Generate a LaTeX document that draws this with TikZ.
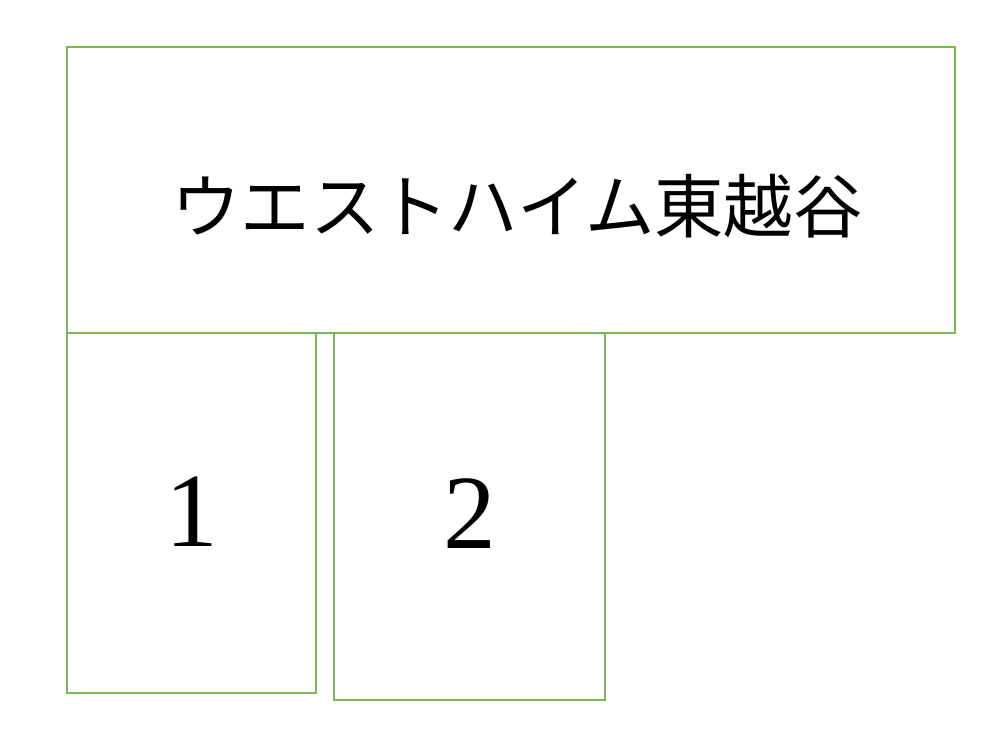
\documentclass[tikz,border=0pt]{standalone}
\usepackage{fontspec}
\setmainfont{Liberation Serif}
\newfontfamily\cjk{Noto Sans CJK JP}
\definecolor{lotgreen}{RGB}{122,184,84}
\tikzset{lot/.style={draw=lotgreen,line width=0.7pt}}

\begin{document}
\begin{tikzpicture}[x=0.02cm,y=-0.02cm]
\useasboundingbox (0,0) rectangle (1004,743);

 % building and parking lots
 \draw[lot] (67,47) rectangle (955,333);
 \draw[lot] (67,333) rectangle (316,693);
 \draw[lot] (334,333) rectangle (605,700);

 \node (title) at (517,206) {\cjk\fontsize{39.5pt}{48pt}\selectfont ウエストハイム東越谷};
 \node (lot1) at (192,512) {\fontsize{60pt}{70pt}\selectfont 1};
 \node (lot2) at (470,514) {\fontsize{60pt}{70pt}\selectfont 2};
\end{tikzpicture}
\end{document}
